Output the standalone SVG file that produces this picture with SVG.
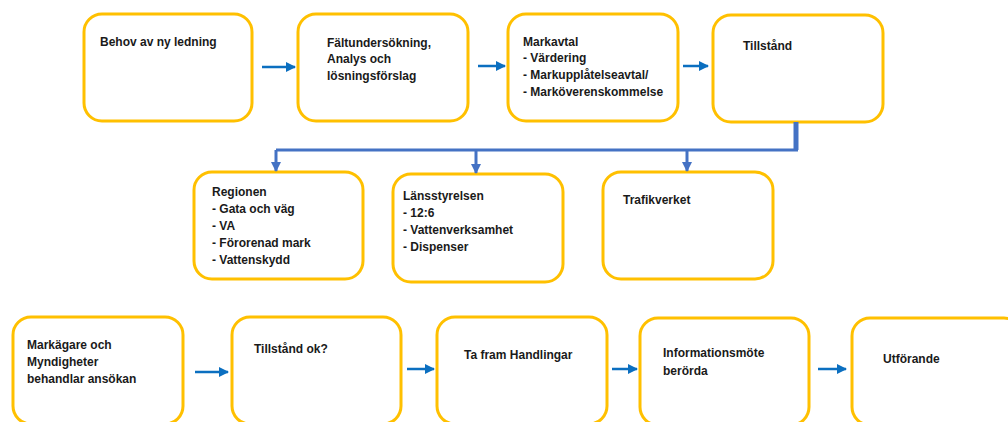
<svg xmlns="http://www.w3.org/2000/svg" width="1008" height="422" viewBox="0 0 1008 422">
<defs>
<style>
.box{fill:#fff;stroke:#FFC000;stroke-width:3}
.t{font-family:"Liberation Sans",Arial,sans-serif;font-weight:bold;font-size:12px;fill:#1a1a1a}
.arr{stroke:#0B6FC0;stroke-width:2.5;fill:none}
.con{stroke:#4472C4;stroke-width:3;fill:none}
</style>
<marker id="ah" viewBox="0 0 10 10" refX="9" refY="5" markerWidth="4" markerHeight="4" orient="auto" markerUnits="strokeWidth"><path d="M0,0 L10,5 L0,10 z" fill="#0B6FC0"/></marker>
<marker id="ah2" viewBox="0 0 10 10" refX="9" refY="5" markerWidth="3.4" markerHeight="3.4" orient="auto" markerUnits="strokeWidth"><path d="M0,0 L10,5 L0,10 z" fill="#4472C4"/></marker>
</defs>
<rect width="1008" height="422" fill="#fff"/>

<g id="n1"><rect class="box" x="84" y="14" width="168" height="107" rx="18"/><text class="t" x="100" y="46">Behov av ny ledning</text></g>
<g id="n2"><rect class="box" x="298" y="14" width="170" height="107" rx="18"/><text class="t" x="327" y="47">Fältundersökning,</text><text class="t" x="327" y="63">Analys och</text><text class="t" x="327" y="80">lösningsförslag</text></g>
<g id="n3"><rect class="box" x="508" y="14" width="170" height="107" rx="18"/><text class="t" x="523" y="46">Markavtal</text><text class="t" x="523" y="62">- Värdering</text><text class="t" x="523" y="79">- Markupplåtelseavtal/</text><text class="t" x="523" y="96">- Marköverenskommelse</text></g>
<g id="n4"><rect class="box" x="713" y="15" width="170" height="107" rx="18"/><text class="t" x="743" y="50">Tillstånd</text></g>

<g id="n5"><rect class="box" x="194" y="172" width="169" height="107" rx="18"/><text class="t" x="212" y="196">Regionen</text><text class="t" x="212" y="213">- Gata och väg</text><text class="t" x="212" y="230">- VA</text><text class="t" x="212" y="247">- Förorenad mark</text><text class="t" x="212" y="264">- Vattenskydd</text></g>
<g id="n6"><rect class="box" x="393" y="174" width="170" height="108" rx="18"/><text class="t" x="403" y="200">Länsstyrelsen</text><text class="t" x="403" y="217">- 12:6</text><text class="t" x="403" y="234">- Vattenverksamhet</text><text class="t" x="403" y="251">- Dispenser</text></g>
<g id="n7"><rect class="box" x="603" y="172" width="170" height="107" rx="18"/><text class="t" x="623" y="204">Trafikverket</text></g>

<g id="n8"><rect class="box" x="13" y="317" width="170" height="107" rx="18"/><text class="t" x="27" y="349">Markägare och</text><text class="t" x="27" y="366">Myndigheter</text><text class="t" x="27" y="383">behandlar ansökan</text></g>
<g id="n9"><rect class="box" x="232" y="317" width="169" height="107" rx="18"/><text class="t" x="254" y="353">Tillstånd ok?</text></g>
<g id="n10"><rect class="box" x="437" y="317" width="170" height="107" rx="18"/><text class="t" x="464" y="359">Ta fram Handlingar</text></g>
<g id="n11"><rect class="box" x="640" y="318" width="169" height="107" rx="18"/><text class="t" x="663" y="357">Informationsmöte</text><text class="t" x="663" y="375">berörda</text></g>
<g id="n12"><rect class="box" x="852" y="318" width="170" height="107" rx="18"/><text class="t" x="883" y="363">Utförande</text></g>

<g id="connectors">
<line class="arr" x1="262" y1="67" x2="295" y2="67" marker-end="url(#ah)"/>
<line class="arr" x1="478" y1="66" x2="505" y2="66" marker-end="url(#ah)"/>
<line class="arr" x1="683" y1="66" x2="708" y2="66" marker-end="url(#ah)"/>
<line x1="796" y1="122" x2="796" y2="150" stroke="#4472C4" stroke-width="5"/>
<polyline class="con" points="798,150 276,150"/>
<line class="con" x1="276" y1="150" x2="276" y2="171" marker-end="url(#ah2)"/>
<line class="con" x1="476" y1="150" x2="476" y2="173" marker-end="url(#ah2)"/>
<line class="con" x1="687" y1="150" x2="687" y2="171" marker-end="url(#ah2)"/>
<line class="arr" x1="195" y1="372" x2="228" y2="372" marker-end="url(#ah)"/>
<line class="arr" x1="407" y1="369" x2="434" y2="369" marker-end="url(#ah)"/>
<line class="arr" x1="612" y1="369" x2="637" y2="369" marker-end="url(#ah)"/>
<line class="arr" x1="818" y1="369" x2="846" y2="369" marker-end="url(#ah)"/>
</g>
</svg>
